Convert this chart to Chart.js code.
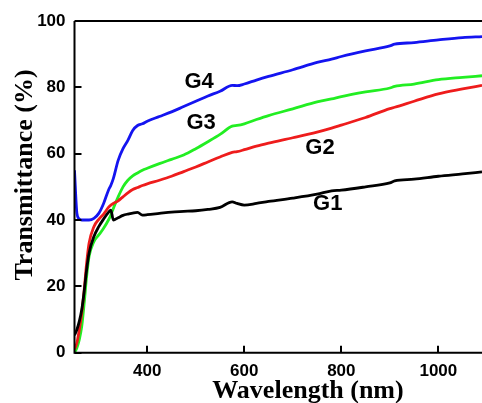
<!DOCTYPE html>
<html>
<head>
<meta charset="utf-8">
<script src="https://cdn.jsdelivr.net/npm/chart.js@4.4.1/dist/chart.umd.min.js"></script>
<style>
  html, body { margin: 0; padding: 0; background: #fff; }
  #wrap { width: 482px; height: 403px; }
</style>
</head>
<body>
<div id="wrap"><canvas id="chart" width="482" height="403"></canvas></div>
<script>
// wavelength grid (nm)
const wavelength = [250, 255, 260, 265, 270, 275, 280, 290, 300, 310, 320, 325, 330, 340, 350, 360, 370, 380, 390, 400,
  425, 450, 475, 500, 525, 550, 575, 585, 600, 625, 650, 700, 750, 780, 800, 850, 900, 910, 950, 1000, 1050, 1090];

// transmittance (%)
const g1 = [5.3, 7, 9.5, 13, 18.5, 25, 30, 35, 38, 40.3, 42.3, 43, 40, 40.7, 41.4, 41.8, 42.1, 42.3, 41.5, 41.6,
  42, 42.4, 42.6, 42.8, 43.2, 43.8, 45.5, 45, 44.5, 45, 45.6, 46.6, 47.8, 48.8, 49, 50, 51.2, 51.8, 52.3, 53.2, 53.9, 54.5];
const g2 = [1, 3, 7, 12, 19, 27, 33, 38, 40.2, 41.8, 43.8, 44.5, 45, 45.8, 47, 48.2, 49.2, 49.8, 50.4, 50.9,
  52, 53.2, 54.6, 56, 57.5, 59, 60.4, 60.6, 61.2, 62.3, 63.2, 64.8, 66.5, 67.7, 68.6, 70.9, 73.6, 74, 75.8, 78, 79.5, 80.6];
const g3 = [0, 1.5, 4, 8, 15, 23, 29, 33.5, 35.5, 37.5, 40, 41.5, 43.5, 47, 50, 52, 53.3, 54.2, 55, 55.6,
  57, 58.3, 59.6, 61.5, 63.6, 65.8, 68.3, 68.5, 69, 70.3, 71.5, 73.5, 75.6, 76.5, 77.2, 78.6, 79.8, 80.3, 81, 82.3, 83, 83.5];
const g4 = [55, 42, 40.3, 40, 40, 40, 40, 40.5, 42, 45, 49, 50.5, 52.5, 58, 61.5, 64, 67, 68.5, 69, 69.8,
  71.2, 72.6, 74.2, 75.8, 77.4, 78.8, 80.6, 80.5, 81, 82.2, 83.3, 85.3, 87.5, 88.5, 89.3, 91, 92.5, 93, 93.5, 94.3, 95, 95.3];

const seriesNames = ['G1', 'G2', 'G3', 'G4'];
const xTicks = [400, 600, 800, 1000];
const yTicks = [0, 20, 40, 60, 80, 100];

function pts(vals) {
  return wavelength.map((w, i) => ({ x: w, y: vals[i] }));
}

// curve labels and the frame with inward ticks
const frame = {
  id: 'frame',
  afterDatasetsDraw(chart) {
    const { ctx, chartArea: a, scales: { x, y } } = chart;
    ctx.save();
    ctx.strokeStyle = '#000';
    ctx.lineWidth = 2;
    ctx.beginPath();
    ctx.moveTo(a.left, a.top); ctx.lineTo(a.right, a.top);
    ctx.moveTo(a.left, a.top); ctx.lineTo(a.left, a.bottom);
    ctx.moveTo(a.left - 1, a.bottom); ctx.lineTo(a.right, a.bottom);
    xTicks.forEach(v => {
      const px = Math.round(x.getPixelForValue(v));
      ctx.moveTo(px, a.bottom); ctx.lineTo(px, a.bottom - 7);
    });
    yTicks.forEach(v => {
      const py = Math.round(y.getPixelForValue(v));
      ctx.moveTo(a.left, py); ctx.lineTo(a.left + 7, py);
    });
    ctx.stroke();

    const spots = [[772, 44.8], [756, 61.7], [511, 69.2], [507, 81.5]];
    ctx.fillStyle = '#000';
    ctx.font = 'bold 22px "Liberation Sans", Arial, sans-serif';
    ctx.textAlign = 'center';
    ctx.textBaseline = 'middle';
    seriesNames.forEach((n, i) => {
      ctx.fillText(n, x.getPixelForValue(spots[i][0]), y.getPixelForValue(spots[i][1]));
    });

    ctx.font = 'bold 26px "Liberation Serif", "Times New Roman", serif';
    ctx.textBaseline = 'alphabetic';
    ctx.fillText('Wavelength (nm)', 308, 398);
    ctx.translate(32, 175);
    ctx.rotate(-Math.PI / 2);
    ctx.fillText('Transmittance (%)', 0, 0);
    ctx.restore();
  }
};

const colors = ['#000000', '#ee1c1c', '#22ee22', '#1414f0'];

new Chart(document.getElementById('chart'), {
  type: 'line',
  data: {
    datasets: [g1, g2, g3, g4].map((vals, i) => ({
      label: seriesNames[i],
      data: pts(vals),
      borderColor: colors[i],
      borderWidth: 2.8,
      pointRadius: 0,
      cubicInterpolationMode: 'monotone',
      fill: false
    }))
  },
  options: {
    responsive: false,
    animation: false,
    layout: { padding: { top: 21, right: 0, left: 0, bottom: 0 } },
    plugins: { legend: { display: false }, tooltip: { enabled: false } },
    scales: {
      x: {
        type: 'linear',
        min: 250,
        max: 1090,
        afterBuildTicks: s => { s.ticks = xTicks.map(v => ({ value: v })); },
        afterFit: s => { s.height = 50.3; },
        grid: { display: false, drawTicks: false },
        border: { display: false },
        ticks: {
          padding: 8,
          color: '#000',
          callback: v => String(v),
          font: { family: '"Liberation Sans", Arial, sans-serif', size: 17, weight: 'bold' }
        }
      },
      y: {
        min: 0,
        max: 100,
        afterBuildTicks: s => { s.ticks = yTicks.map(v => ({ value: v })); },
        afterFit: s => { s.width = 74.5; },
        grid: { display: false, drawTicks: false },
        border: { display: false },
        ticks: {
          padding: 9,
          color: '#000',
          callback: v => String(v),
          font: { family: '"Liberation Sans", Arial, sans-serif', size: 17, weight: 'bold' }
        }
      }
    }
  },
  plugins: [frame]
});
</script>
</body>
</html>
